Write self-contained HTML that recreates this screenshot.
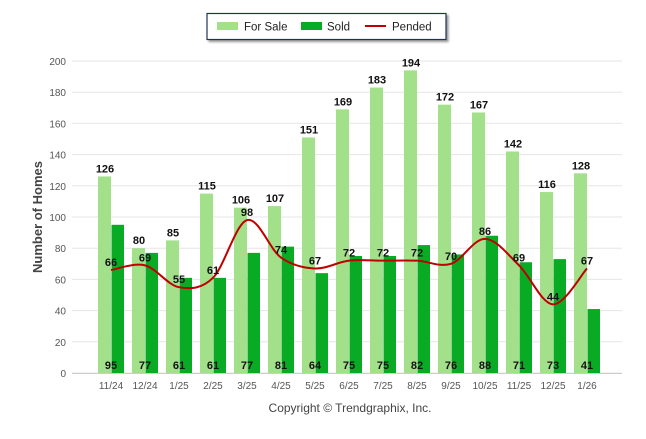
<!DOCTYPE html>
<html><head><meta charset="utf-8"><style>
body{margin:0;background:#fff;font-family:"Liberation Sans",sans-serif}
svg text{font-family:"Liberation Sans",sans-serif}
</style></head><body>
<svg width="646" height="434" xmlns="http://www.w3.org/2000/svg">
<g>
<rect x="207" y="13.5" width="239" height="26" fill="#fff" stroke="#1f3358" stroke-width="1.2" style="filter:drop-shadow(2px 2px 1px #999)"/>
<rect x="217" y="22" width="21" height="8" fill="#a2e08a"/>
<text x="244" y="30.5" font-size="11.5" fill="#222">For Sale</text>
<rect x="301" y="22" width="21" height="8" fill="#0aab24"/>
<text x="327" y="30.5" font-size="11.5" fill="#222">Sold</text>
<line x1="365" y1="26" x2="386" y2="26" stroke="#c00000" stroke-width="2"/>
<text x="392" y="30.5" font-size="11.5" fill="#222">Pended</text>
</g>
<g id="grid"></g><g id="bars"></g><g id="line"></g><g id="labels"></g>
<text transform="translate(42,217) rotate(-90)" text-anchor="middle" font-size="13" font-weight="bold" fill="#444">Number of Homes</text>
<text x="350" y="412" text-anchor="middle" font-size="12" fill="#444">Copyright © Trendgraphix, Inc.</text>
</svg>
<script>
const categories=["11/24","12/24","1/25","2/25","3/25","4/25","5/25","6/25","7/25","8/25","9/25","10/25","11/25","12/25","1/26"];
const forSale=[126,80,85,115,106,107,151,169,183,194,172,167,142,116,128];
const sold=[95,77,61,61,77,81,64,75,75,82,76,88,71,73,41];
const pended=[66,69,55,61,98,74,67,72,72,72,70,86,69,44,67];
const yTicks=[0,20,40,60,80,100,120,140,160,180,200];
const NS="http://www.w3.org/2000/svg";
const y=v=>373-v*1.56;
const x=i=>111+i*34;
function mk(t,a,p){const e=document.createElementNS(NS,t);for(const k in a)e.setAttribute(k,a[k]);p.appendChild(e);return e;}
const G=document.getElementById('grid'),B=document.getElementById('bars'),L=document.getElementById('line'),T=document.getElementById('labels');
yTicks.forEach(v=>{
 const l=mk('line',{x1:72,x2:622,y1:y(v),y2:y(v),stroke:'#e6e6e6'},G);
 
 
 const t=mk('text',{x:66,y:y(v)+4,'text-anchor':'end','font-size':10,fill:'#555'},G);t.textContent=v;
 
 
});
categories.forEach((c,i)=>{
 const t=mk('text',{x:x(i),y:389,'text-anchor':'middle','font-size':10,fill:'#555'},G);t.textContent=c;
 
 
 const a=mk('rect',{x:x(i)-13,y:y(forSale[i]),width:13,height:forSale[i]*1.56,fill:'#a2e08a'},B);
 
 
 const b=mk('rect',{x:x(i)+0.5,y:y(sold[i]),width:12.5,height:sold[i]*1.56,fill:'#0aab24'},B);
 
 
 const t1=mk('text',{x:x(i)-6,y:y(forSale[i])-4,'text-anchor':'middle','font-size':11,'font-weight':'bold',fill:'#111'},T);t1.textContent=forSale[i];
 
 
 const t2=mk('text',{x:x(i),y:369,'text-anchor':'middle','font-size':11,'font-weight':'bold',fill:'#111'},T);t2.textContent=sold[i];
 
 
 const t3=mk('text',{x:x(i),y:y(pended[i])-4,'text-anchor':'middle','font-size':11,'font-weight':'bold',fill:'#111'},T);t3.textContent=pended[i];
 
 
});
const axis=mk('line',{x1:72,x2:622,y1:373.5,y2:373.5,stroke:'#ccc'},G);


let d='M'+x(0)+','+y(pended[0]);
for(let i=0;i<pended.length-1;i++){
 const p0=[x(Math.max(i-1,0)),y(pended[Math.max(i-1,0)])],p1=[x(i),y(pended[i])],p2=[x(i+1),y(pended[i+1])],p3=[x(Math.min(i+2,pended.length-1)),y(pended[Math.min(i+2,pended.length-1)])];
 const c1=[p1[0]+(p2[0]-p0[0])/6,p1[1]+(p2[1]-p0[1])/6],c2=[p2[0]-(p3[0]-p1[0])/6,p2[1]-(p3[1]-p1[1])/6];
 d+=` C${c1[0]},${c1[1]} ${c2[0]},${c2[1]} ${p2[0]},${p2[1]}`;
}
const pl=mk('path',{d:d,fill:'none',stroke:'#c00000','stroke-width':2},L);


</script>
</body></html>
